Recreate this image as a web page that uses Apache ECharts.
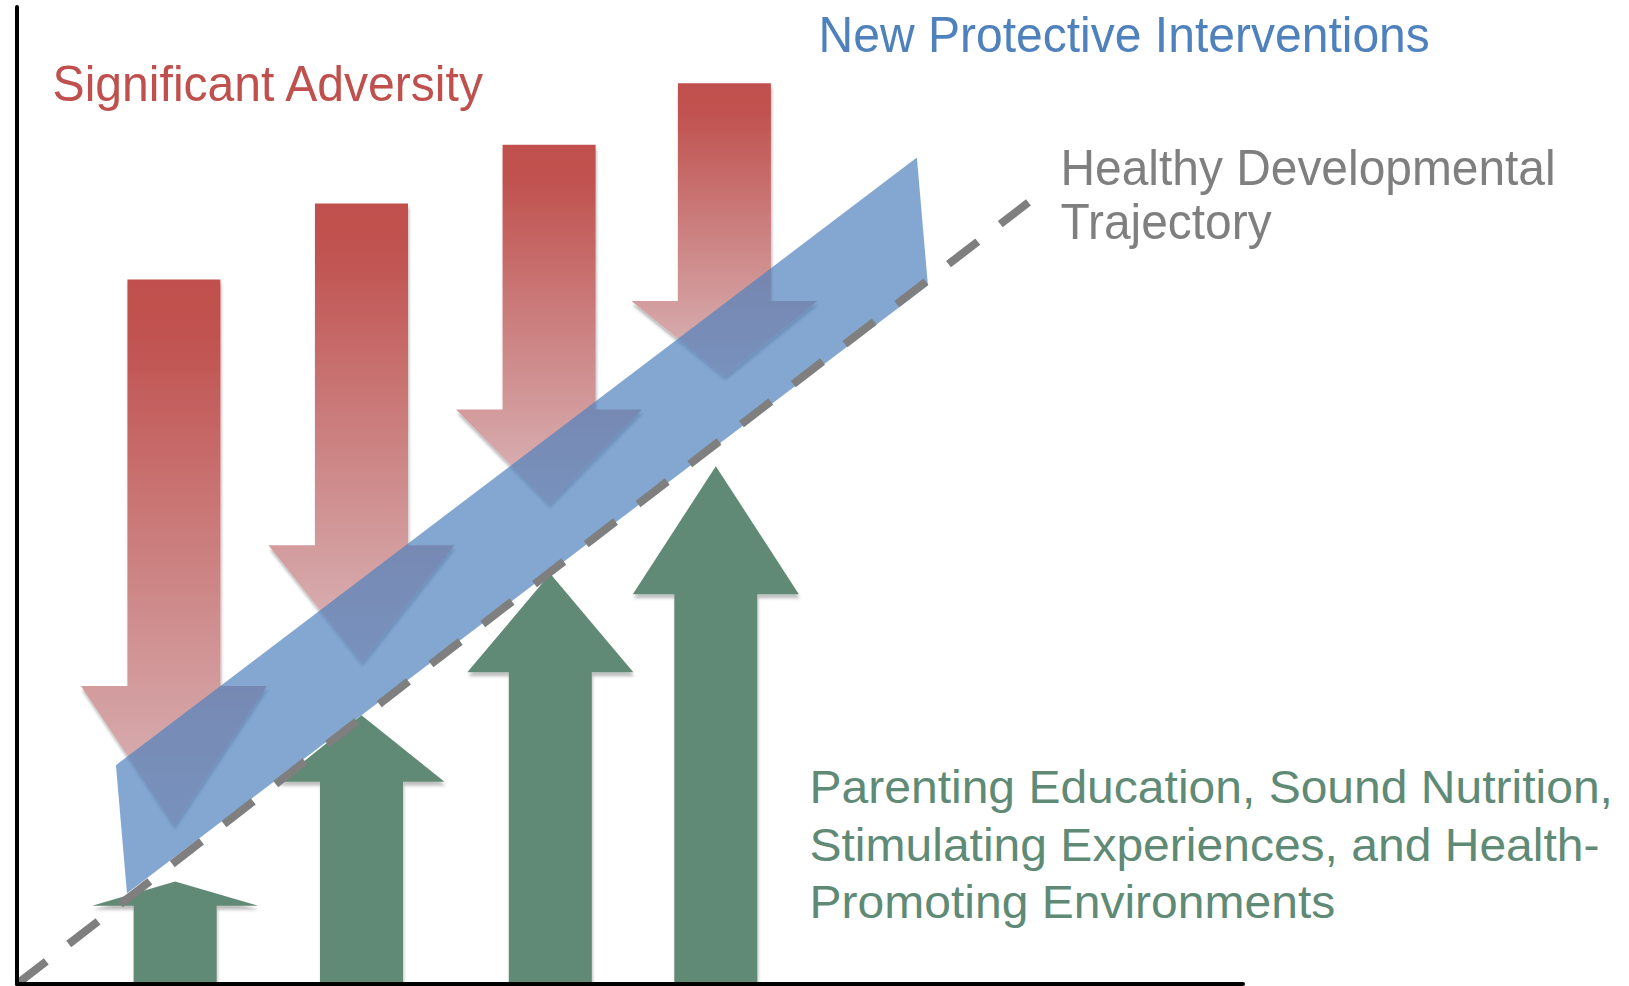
<!DOCTYPE html>
<html><head><meta charset="utf-8">
<script src="https://cdn.jsdelivr.net/npm/echarts@6/dist/echarts.min.js"></script>
<style>html,body{margin:0;padding:0;background:#fff}#c{width:1629px;height:986px}</style>
</head><body><div id="c"></div>
<script>
// ---- Data (axis units: 0..100 on both axes) ----
const adversityX        = [12.8, 28.1, 43.4, 57.7];
const adversityTop      = [72.1, 79.9, 85.9, 92.2];
const adversityHeadBase = [30.5, 44.9, 58.8, 69.9];
const adversityTip      = [16.2, 32.9, 49.1, 62.2];

const supportX        = [12.9, 28.1, 43.5, 57.0];
const supportTip      = [10.5, 27.5, 42.0, 53.0];
const supportHeadBase = [8.0, 20.7, 31.9, 39.9];

const bandLowerX = [8.97, 74.3];
const bandLowerY = [9.3, 71.5];
const bandUpperX = [8.07, 73.4];
const bandUpperY = [22.4, 84.6];

const trajectoryX = [0, 82.5];
const trajectoryY = [0, 80.0];

const labelAdversity = 'Significant Adversity';
const labelInterventions = 'New Protective Interventions';
const labelTrajectory = ['Healthy Developmental', 'Trajectory'];
const labelSupports = ['Parenting Education, Sound Nutrition,', 'Stimulating Experiences, and Health-', 'Promoting Environments'];

// ---- Styles ----
const RED = '#C0504D', BLUE = '#4F81BD', GRAY = '#7F7F7F', GREEN = '#618976', GREEN_TXT = '#5F8A75';
const FONT_FAMILY = '"Liberation Sans", Arial, Helvetica, sans-serif';

const chart = echarts.init(document.getElementById('c'), null, {renderer: 'svg'});

function renderAdversity(params, api) {
  const x = api.value(0);
  const pTop = api.coord([x, api.value(1)]);
  const pBase = api.coord([x, api.value(2)]);
  const pTip = api.coord([x, api.value(3)]);
  const hs = 46.5, hh = 93, cx = pTop[0];
  return {
    type: 'polygon',
    shape: {points: [
      [cx - hs, pTop[1]], [cx + hs, pTop[1]], [cx + hs, pBase[1]], [cx + hh, pBase[1]],
      [cx, pTip[1]], [cx - hh, pBase[1]], [cx - hs, pBase[1]]
    ]},
    style: {
      fill: new echarts.graphic.LinearGradient(0, 0, 0, 1, [
        {offset: 0, color: '#C0504D'},
        {offset: 0.1, color: '#C0524F'},
        {offset: 1, color: '#DAB8BB'}
      ]),
      shadowColor: 'rgba(0,0,0,0.28)', shadowBlur: 3, shadowOffsetX: 1, shadowOffsetY: 4
    }
  };
}

function renderSupport(params, api) {
  const x = api.value(0);
  const pTip = api.coord([x, api.value(1)]);
  const pBase = api.coord([x, api.value(2)]);
  const p0 = api.coord([x, 0]);
  const hs = 41.5, hh = 83, cx = pTip[0];
  return {
    type: 'polygon',
    shape: {points: [
      [cx - hs, p0[1]], [cx - hs, pBase[1]], [cx - hh, pBase[1]], [cx, pTip[1]],
      [cx + hh, pBase[1]], [cx + hs, pBase[1]], [cx + hs, p0[1]]
    ]},
    style: {fill: GREEN, shadowColor: 'rgba(0,0,0,0.25)', shadowBlur: 3, shadowOffsetX: 1, shadowOffsetY: 4}
  };
}

function renderBand(params, api) {
  const pts = [];
  for (let i = 0; i < 4; i++) pts.push(api.coord([api.value(i * 2), api.value(i * 2 + 1)]));
  return {type: 'polygon', shape: {points: pts}, style: {fill: 'rgba(79,129,189,0.7)'}};
}

const option = {
  animation: false,
  backgroundColor: '#ffffff',
  grid: {left: 17, right: 386, top: 7, bottom: 2, containLabel: false},
  xAxis: {
    type: 'value', min: 0, max: 100, z: 10,
    axisLine: {show: true, onZero: false, lineStyle: {color: '#000', width: 4}},
    axisTick: {show: false}, axisLabel: {show: false}, splitLine: {show: false}
  },
  yAxis: {
    type: 'value', min: 0, max: 100, z: 10,
    axisLine: {show: true, onZero: false, lineStyle: {color: '#000', width: 4}},
    axisTick: {show: false}, axisLabel: {show: false}, splitLine: {show: false}
  },
  series: [
    {
      type: 'custom', name: 'Significant Adversity', z: 2,
      renderItem: renderAdversity,
      encode: {x: 0, y: [1, 2, 3]},
      data: adversityX.map((x, i) => [x, adversityTop[i], adversityHeadBase[i], adversityTip[i]])
    },
    {
      type: 'custom', name: 'Supports', z: 3,
      renderItem: renderSupport,
      encode: {x: 0, y: [1, 2]},
      data: supportX.map((x, i) => [x, supportTip[i], supportHeadBase[i]])
    },
    {
      type: 'custom', name: 'New Protective Interventions', z: 4,
      renderItem: renderBand,
      encode: {x: [0, 2, 4, 6], y: [1, 3, 5, 7]},
      data: [[bandLowerX[0], bandLowerY[0], bandUpperX[0], bandUpperY[0],
              bandUpperX[1], bandUpperY[1], bandLowerX[1], bandLowerY[1]]]
    },
    {
      type: 'line', name: 'Healthy Developmental Trajectory', z: 5,
      symbol: 'none', clip: false, silent: true,
      lineStyle: {color: GRAY, width: 8, type: [37, 28.4], cap: 'butt'},
      data: trajectoryX.map((x, i) => [x, trajectoryY[i]])
    }
  ],
  graphic: [
    {type: 'text', x: 52.6, y: 58.7, scaleX: 0.962, z: 20,
     style: {text: labelAdversity, fill: RED, font: '50px ' + FONT_FAMILY, align: 'left', verticalAlign: 'top', lineHeight: 50}},
    {type: 'text', x: 818.5, y: 9.7, scaleX: 0.961, z: 20,
     style: {text: labelInterventions, fill: BLUE, font: '50px ' + FONT_FAMILY, align: 'left', verticalAlign: 'top', lineHeight: 50}},
    {type: 'text', x: 1060.5, y: 140.7, scaleX: 0.958, z: 20,
     style: {text: labelTrajectory.join('\n'), fill: GRAY, font: '50px ' + FONT_FAMILY, align: 'left', verticalAlign: 'top', lineHeight: 54}},
    {type: 'text', x: 809.5, y: 758.3, scaleX: 1.044, z: 20,
     style: {text: labelSupports.join('\n'), fill: GREEN_TXT, font: '46px ' + FONT_FAMILY, align: 'left', verticalAlign: 'top', lineHeight: 57.5}}
  ]
};
chart.setOption(option);
</script>
</body></html>
